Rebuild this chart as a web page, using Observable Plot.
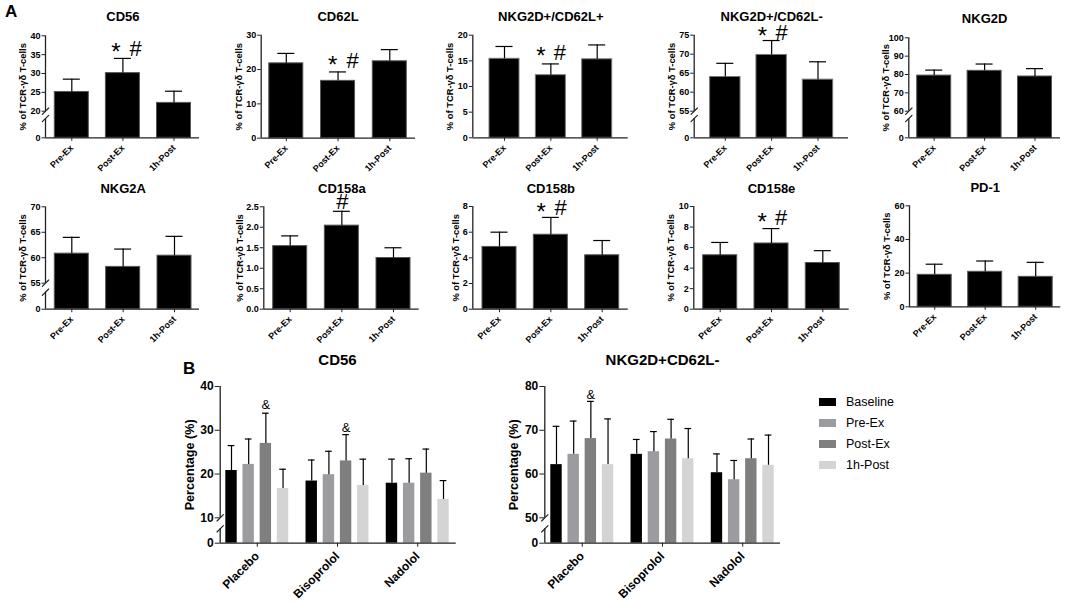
<!DOCTYPE html>
<html>
<head>
<meta charset="utf-8">
<script src="https://cdn.jsdelivr.net/npm/d3@7"></script>
<script src="https://cdn.jsdelivr.net/npm/@observablehq/plot@0.6"></script>
<style>
  body { margin: 0; background: #fff; font-family: "Liberation Sans", Arial, sans-serif; }
  #page { position: relative; width: 1066px; height: 604px; overflow: hidden; }
  #page svg { position: absolute; background: transparent; overflow: visible; }
  .letter { position: absolute; font-weight: bold; font-size: 17px; line-height: 17px; }
  .legend { position: absolute; font-size: 12.5px; line-height: 16px; white-space: nowrap; }
  .legend i { position: absolute; left: -27px; top: 4px; width: 17px; height: 8px; }
</style>
</head>
<body>
<div id="page"></div>
<script>
// panel A
const sets = ['Pre-Ex', 'Post-Ex', '1h-Post']
const yTitleA = '% of TCR-γδ T-cells'

const cd56Mean = [25.1, 30.1, 22.2]
const cd56Top = [28.5, 34, 25.3]
const cd62lMean = [21.8, 16.7, 22.4]
const cd62lTop = [24.7, 19.3, 25.8]
const dPlusLPlusMean = [15.4, 12.2, 15.3]
const dPlusLPlusTop = [17.8, 14.4, 18.1]
const dPlusLMinusMean = [64, 69.8, 63.3]
const dPlusLMinusTop = [67.6, 73.6, 68]
const nkg2dMean = [79.4, 82, 78.9]
const nkg2dTop = [82.4, 85.7, 83.2]
const nkg2aMean = [60.8, 58.2, 60.4]
const nkg2aTop = [64, 61.7, 64.2]
const cd158aMean = [1.54, 2.04, 1.25]
const cd158aTop = [1.79, 2.39, 1.5]
const cd158bMean = [4.85, 5.8, 4.2]
const cd158bTop = [6, 7.15, 5.35]
const cd158eMean = [5.25, 6.4, 4.5]
const cd158eTop = [6.5, 7.85, 5.7]
const pd1Mean = [19, 20.8, 17.8]
const pd1Top = [25.3, 27.2, 26.4]

// panel B, 4 series per drug
const drugs = ['Placebo', 'Bisoprolol', 'Nadolol']
const phases = ['Baseline', 'Pre-Ex', 'Post-Ex', '1h-Post']
const phaseColors = ['#000000', '#9b9ba0', '#7f7f7f', '#d4d4d4']
const bCd56Mean = [20.8, 22.2, 27, 16.7, 18.4, 19.85, 23, 17.4, 17.9, 17.9, 20.2, 14.2]
const bCd56Top = [26.5, 28, 33.9, 21.1, 23.2, 25.2, 29, 23.4, 23.4, 23.5, 25.7, 18.5]
const bNkgMean = [62.15, 64.5, 68.1, 62.15, 64.5, 65.1, 68, 63.5, 60.3, 58.7, 63.5, 62]
const bNkgTop = [70.9, 72.1, 76.6, 72.6, 67.9, 69.7, 72.5, 70.4, 64.6, 63.1, 68, 68.9]

const font = '"Liberation Sans", Arial, sans-serif'
const axisColor = '#222'
const slash = {
  draw(ctx, l) {
    ctx.moveTo(0, 0)
    ctx.lineTo(0, -l)
  },
}
const page = d3.select('#page')

function drawPanel(p) {
  const isB = p.means.length > 3
  const groupStep = 4.67
  const xs = isB ? p.means.map((_, i) => Math.floor(i / 4) * groupStep + (i % 4)) : [0, 1, 2]
  const tickAt = isB ? drugs.map((_, g) => g * groupStep + 1.5) : xs
  const tickNames = isB ? drugs : sets
  const lastX = xs[xs.length - 1]
  const unit = (p.cEnd - p.c0) / lastX
  const xMin = (p.axisX - p.c0) / unit
  const xMax = (p.endX - p.c0) / unit
  const half = p.barW / 2 / unit
  const cap = p.capW / 2 / unit
  const mid = isB ? tickAt[1] : 1
  const rows = p.means.map((m, i) => ({
    x: xs[i],
    mean: m,
    top: p.tops[i],
    color: isB ? phaseColors[i % 4] : '#000',
  }))

  const w = p.box[1] - p.box[0]
  const h = p.box[3] - p.box[2]
  const yMax = p.ticks[p.ticks.length - 1]
  let domain = [0, yMax]
  let range = [p.y0 - p.box[2], p.yTop - p.box[2]]
  let axisParts = [[0, yMax]]
  let slashes = []
  if (p.brk) {
    const low = p.brk.value / 2
    domain = [0, low, p.brk.value, yMax]
    range = [p.y0 - p.box[2], p.brk.yLow - p.box[2], p.brk.yHigh - p.box[2], p.yTop - p.box[2]]
    axisParts = [[0, low], [p.brk.value, yMax]]
    slashes = [low, p.brk.value]
  }

  const small = isB ? 12 : 9
  const sigMarks = (p.sig || []).map(s =>
    Plot.text([s], {
      x: d => d.x,
      y: d => d.y,
      dx: s.dx,
      dy: s.label === '*' ? 4 : 0,
      text: d => d.label,
      fontSize: s.size,
      fill: '#000',
    }),
  )
  const chart = Plot.plot({
    width: w,
    height: h,
    marginLeft: p.axisX - p.box[0],
    marginRight: p.box[1] - p.endX,
    marginTop: p.yTop - p.box[2],
    marginBottom: p.box[3] - p.y0,
    style: { fontFamily: font, background: 'transparent', color: '#000' },
    x: { domain: [xMin, xMax] },
    y: { type: 'linear', domain, range },
    marks: [
      Plot.rect(rows, {
        x1: d => d.x - half,
        x2: d => d.x + half,
        y1: () => 0,
        y2: 'mean',
        fill: d => d.color,
        stroke: p.barStroke || 'none',
        strokeWidth: 1,
      }),
      Plot.ruleX(rows, { x: 'x', y1: 'mean', y2: 'top', stroke: '#000', strokeWidth: 1.2 }),
      Plot.ruleY(rows, {
        y: 'top',
        x1: d => d.x - cap,
        x2: d => d.x + cap,
        stroke: '#000',
        strokeWidth: 1.2,
      }),
      Plot.ruleY([0], { x1: () => xMin, x2: () => xMax, stroke: axisColor, strokeWidth: 1.3 }),
      Plot.ruleX(axisParts, {
        x: () => xMin,
        y1: d => d[0],
        y2: d => d[1],
        stroke: axisColor,
        strokeWidth: 1.3,
      }),
      Plot.vector(slashes, {
        x: () => xMin,
        y: d => d,
        length: 9,
        rotate: 45,
        anchor: 'middle',
        shape: slash,
        stroke: axisColor,
        strokeWidth: 1.2,
      }),
      Plot.axisY({
        ticks: p.ticks,
        tickFormat: p.format || (d => d),
        tickSize: isB ? 5 : 3.5,
        tickPadding: 1.5,
        label: null,
        fontSize: small,
        fontWeight: 'bold',
        stroke: axisColor,
      }),
      Plot.axisX({
        ticks: tickAt,
        tickFormat: d => tickNames[tickAt.indexOf(d)],
        tickRotate: -45,
        tickSize: isB ? 4 : 3.5,
        tickPadding: isB ? 7 : 5,
        label: null,
        fontSize: isB ? 12 : 9,
        fontWeight: 'bold',
        stroke: axisColor,
      }),
      Plot.text([p.yTitle], {
        frameAnchor: 'left',
        textAnchor: 'middle',
        rotate: -90,
        dx: p.yTitleDx,
        text: d => d,
        fontSize: isB ? 12.6 : 9.4,
        fontWeight: 'bold',
      }),
      Plot.text([p.title], {
        x: () => mid,
        y: () => yMax,
        dy: p.titleY - p.yTop,
        text: d => d,
        fontSize: isB ? 15 : 13,
        fontWeight: 'bold',
      }),
      ...sigMarks,
    ],
  })
  d3.select(chart).style('left', p.box[0] + 'px').style('top', p.box[2] + 'px')
  page.append(() => chart)
}

function starHash(y, dxStar, dxHash) {
  return [
    { label: '*', x: 1, y, dx: dxStar, size: 24 },
    { label: '#', x: 1, y, dx: dxHash, size: 22 },
  ]
}

const panels = [
  { title: 'CD56', means: cd56Mean, tops: cd56Top, ticks: [0, 20, 25, 30, 35, 40],
    box: [0, 215, 0, 178], axisX: 45, endX: 199, c0: 71.3, cEnd: 173.5, barW: 34, capW: 17,
    y0: 137.3, yTop: 35.3, brk: { value: 20, yLow: 118, yHigh: 110.7 }, titleY: 16.5,
    yTitle: yTitleA, yTitleDx: -22.5, sig: starHash(36.6, -7, 12.7), barStroke: '#555' },
  { title: 'CD62L', means: cd62lMean, tops: cd62lTop, ticks: [0, 10, 20, 30],
    box: [215, 440, 0, 178], axisX: 260.7, endX: 415, c0: 285.8, cEnd: 389.3, barW: 34, capW: 17,
    y0: 137.7, yTop: 34.7, titleY: 16,
    yTitle: yTitleA, yTitleDx: -22.5, sig: starHash(22.5, -5.5, 14.5), barStroke: '#555' },
  { title: 'NKG2D+/CD62L+', means: dPlusLPlusMean, tops: dPlusLPlusTop, ticks: [0, 5, 10, 15, 20],
    box: [440, 660, 0, 178], axisX: 472.3, endX: 627.7, c0: 504, cEnd: 596.7, barW: 30, capW: 17,
    y0: 137.3, yTop: 34.7, titleY: 16,
    yTitle: yTitleA, yTitleDx: -22.5, sig: starHash(16.6, -10, 9), barStroke: '#777' },
  { title: 'NKG2D+/CD62L-', means: dPlusLMinusMean, tops: dPlusLMinusTop, ticks: [0, 55, 60, 65, 70, 75],
    box: [660, 870, 0, 178], axisX: 693.7, endX: 848, c0: 724.8, cEnd: 817.5, barW: 30.4, capW: 17,
    y0: 137.3, yTop: 34.7, brk: { value: 55, yLow: 118, yHigh: 110.7 }, titleY: 16,
    yTitle: yTitleA, yTitleDx: -22.5, sig: starHash(75.7, -9.3, 10), barStroke: '#777' },
  { title: 'NKG2D', means: nkg2dMean, tops: nkg2dTop, ticks: [0, 60, 70, 80, 90, 100],
    box: [870, 1066, 0, 178], axisX: 908.3, endX: 1060, c0: 933.7, cEnd: 1034.5, barW: 34, capW: 17,
    y0: 137.3, yTop: 37.3, brk: { value: 60, yLow: 118, yHigh: 110.7 }, titleY: 18,
    yTitle: yTitleA, yTitleDx: -22.5, barStroke: '#555' },
  { title: 'NKG2A', means: nkg2aMean, tops: nkg2aTop, ticks: [0, 55, 60, 65, 70],
    box: [0, 215, 178, 352], axisX: 45, endX: 199, c0: 71.3, cEnd: 174, barW: 34, capW: 17,
    y0: 308.7, yTop: 206.3, brk: { value: 55, yLow: 291.7, yHigh: 282.7 }, titleY: 188,
    yTitle: yTitleA, yTitleDx: -22.5, barStroke: '#555' },
  { title: 'CD158a', means: cd158aMean, tops: cd158aTop, ticks: [0, 0.5, 1, 1.5, 2, 2.5],
    format: d3.format('.1f'),
    box: [215, 440, 178, 352], axisX: 263.3, endX: 418.7, c0: 289.7, cEnd: 393, barW: 34, capW: 17,
    y0: 308.7, yTop: 206.3, titleY: 188,
    yTitle: yTitleA, yTitleDx: -24, sig: [{ label: '#', x: 1, y: 2.61, dx: 0.5, size: 22 }], barStroke: '#555' },
  { title: 'CD158b', means: cd158bMean, tops: cd158bTop, ticks: [0, 2, 4, 6, 8],
    box: [440, 660, 178, 352], axisX: 472.3, endX: 627.7, c0: 499, cEnd: 601.7, barW: 34, capW: 17,
    y0: 308.7, yTop: 206, titleY: 188,
    yTitle: yTitleA, yTitleDx: -17, sig: starHash(7.87, -9.7, 9.7), barStroke: '#555' },
  { title: 'CD158e', means: cd158eMean, tops: cd158eTop, ticks: [0, 2, 4, 6, 8, 10],
    box: [660, 870, 178, 352], axisX: 693.3, endX: 848.7, c0: 719.7, cEnd: 822.3, barW: 34, capW: 17,
    y0: 308.7, yTop: 206, titleY: 188,
    yTitle: yTitleA, yTitleDx: -22.5, sig: starHash(8.86, -9.3, 9.7), barStroke: '#555' },
  { title: 'PD-1', means: pd1Mean, tops: pd1Top, ticks: [0, 20, 40, 60],
    box: [870, 1066, 178, 352], axisX: 909, endX: 1060.3, c0: 934.2, cEnd: 1035.2, barW: 34, capW: 17,
    y0: 306.3, yTop: 205.3, titleY: 187,
    yTitle: yTitleA, yTitleDx: -22.5, barStroke: '#555' },
  { title: 'CD56', means: bCd56Mean, tops: bCd56Top, ticks: [0, 10, 20, 30, 40],
    box: [170, 500, 352, 604], axisX: 219.7, endX: 455.7, c0: 231, cEnd: 443, barW: 11.4, capW: 6.7,
    y0: 542.7, yTop: 386, brk: { value: 10, yLow: 528.3, yHigh: 517.3 }, titleY: 360,
    yTitle: 'Percentage (%)', yTitleDx: -30.7,
    sig: [
      { label: '&', x: 2, y: 35.7, dx: 0, size: 13 },
      { label: '&', x: 6.67, y: 30.55, dx: 0, size: 13 },
    ] },
  { title: 'NKG2D+CD62L-', means: bNkgMean, tops: bNkgTop, ticks: [0, 50, 60, 70, 80],
    box: [500, 800, 352, 604], axisX: 544.3, endX: 780, c0: 556, cEnd: 768, barW: 11.4, capW: 6.7,
    y0: 542.7, yTop: 386, brk: { value: 50, yLow: 528.3, yHigh: 517.3 }, titleY: 360,
    yTitle: 'Percentage (%)', yTitleDx: -30.7,
    sig: [{ label: '&', x: 2, y: 78.2, dx: 0, size: 13 }] },
]

panels.forEach(drawPanel)

page.append('div').attr('class', 'letter').style('left', '5px').style('top', '3px').text('A')
page.append('div').attr('class', 'letter').style('left', '183px').style('top', '360px').text('B')

phases.forEach((name, i) => {
  const row = page.append('div').attr('class', 'legend')
    .style('left', '846px')
    .style('top', 393.5 + i * 21.1 + 'px')
  row.append('i').style('background', phaseColors[i])
  row.append('span').text(name)
})
</script>
</body>
</html>
